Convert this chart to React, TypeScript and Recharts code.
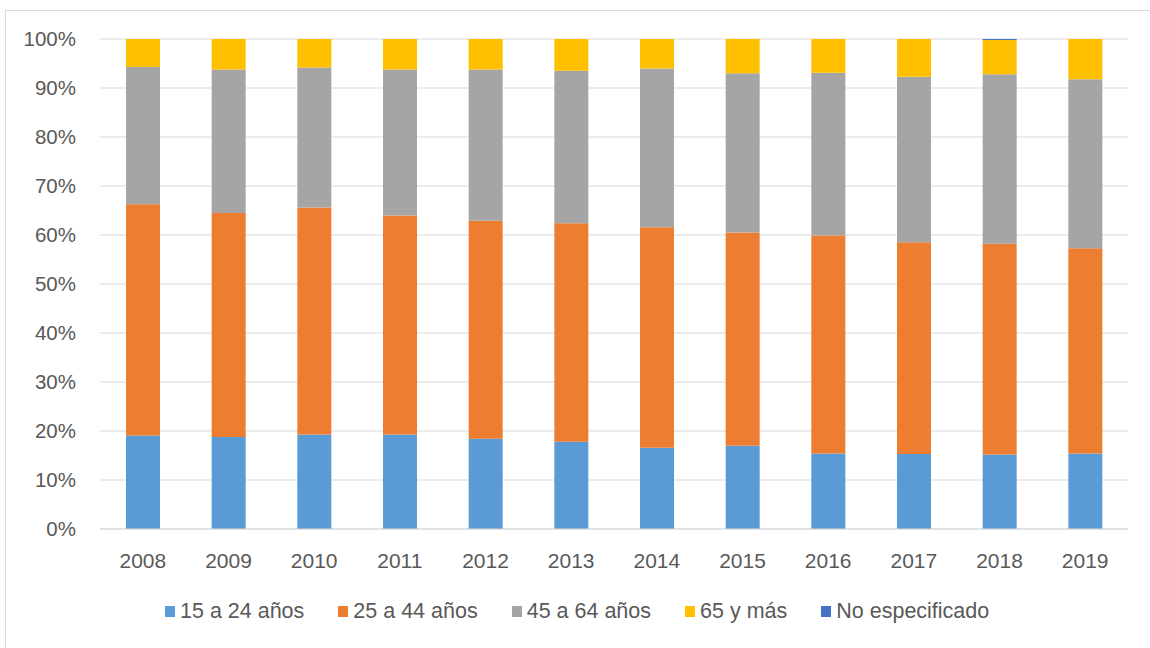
import React from "react";
import { Bar, BarChart, CartesianGrid, Legend, XAxis, YAxis } from "recharts";

const YEARS = ["2008", "2009", "2010", "2011", "2012", "2013", "2014", "2015", "2016", "2017", "2018", "2019"];
const AGE_15_24 = [19.1, 18.8, 19.3, 19.3, 18.4, 17.8, 16.6, 17.0, 15.4, 15.3, 15.2, 15.4];
const AGE_25_44 = [47.2, 45.7, 46.3, 44.7, 44.5, 44.6, 45.0, 43.5, 44.5, 43.2, 43.0, 41.9];
const AGE_45_64 = [28.0, 29.3, 28.6, 29.8, 30.9, 31.1, 32.4, 32.5, 33.2, 33.8, 34.6, 34.5];
const AGE_65 = [5.7, 6.2, 5.8, 6.2, 6.2, 6.5, 6.0, 7.0, 6.9, 7.7, 7.0, 8.2];
const NO_ESPEC = [0, 0, 0, 0, 0, 0, 0, 0, 0, 0, 0.2, 0];
const Y_TICKS = [0, 10, 20, 30, 40, 50, 60, 70, 80, 90, 100];

const SERIES = [
  { key: "a15", name: "15 a 24 años", color: "#5B9BD5" },
  { key: "a25", name: "25 a 44 años", color: "#ED7D31" },
  { key: "a45", name: "45 a 64 años", color: "#A5A5A5" },
  { key: "a65", name: "65 y más", color: "#FFC000" },
  { key: "ne", name: "No especificado", color: "#4472C4" },
];

const data = YEARS.map((year, i) => ({
  year,
  a15: AGE_15_24[i],
  a25: AGE_25_44[i],
  a45: AGE_45_64[i],
  a65: AGE_65[i],
  ne: NO_ESPEC[i],
}));

const FONT = "'Liberation Sans', Arial, sans-serif";
const TEXT = "#595959";

function LegendContent() {
  return (
    <div style={{ display: "flex", paddingLeft: 165, fontFamily: FONT, fontSize: 21.5, color: TEXT }}>
      {SERIES.map((s) => (
        <div key={s.key} style={{ display: "flex", alignItems: "center", marginRight: 34 }}>
          <span style={{ width: 10, height: 11, background: s.color, marginRight: 5, display: "inline-block" }} />
          <span>{s.name}</span>
        </div>
      ))}
    </div>
  );
}

export default function App() {
  return (
    <div style={{ position: "fixed", left: 0, top: 0, width: 1150, height: 648, overflow: "hidden", background: "#fff" }}>
      <div style={{ position: "absolute", left: 5, top: 10, width: 1200, height: 700, border: "1px solid #d9d9d9" }} />
      <div style={{ position: "absolute", left: 0, top: 0 }}>
        <BarChart width={1150} height={648} data={data} margin={{ top: 39, right: 22, left: 0, bottom: 69 }}>
          <CartesianGrid vertical={false} stroke="#d9d9d9" />
          <XAxis
            dataKey="year"
            tickLine={false}
            axisLine={{ stroke: "#d9d9d9" }}
            tickSize={6}
            tickMargin={18}
            height={50}
            tick={{ fill: TEXT, fontSize: 21, fontFamily: FONT }}
          />
          <YAxis
            domain={[0, 100]}
            ticks={Y_TICKS}
            allowDataOverflow
            tickFormatter={(v) => `${v}%`}
            tickLine={false}
            axisLine={false}
            tickSize={6}
            tickMargin={18}
            width={100}
            tick={{ fill: TEXT, fontSize: 20.5, fontFamily: FONT }}
          />
          <Legend
            verticalAlign="middle"
            align="center"
            content={<LegendContent />}
            wrapperStyle={{ top: 599, left: 0, width: 1150 }}
          />
          {SERIES.map((s) => (
            <Bar key={s.key} dataKey={s.key} name={s.name} stackId="s" fill={s.color} barSize={34} isAnimationActive={false} />
          ))}
        </BarChart>
      </div>
    </div>
  );
}
